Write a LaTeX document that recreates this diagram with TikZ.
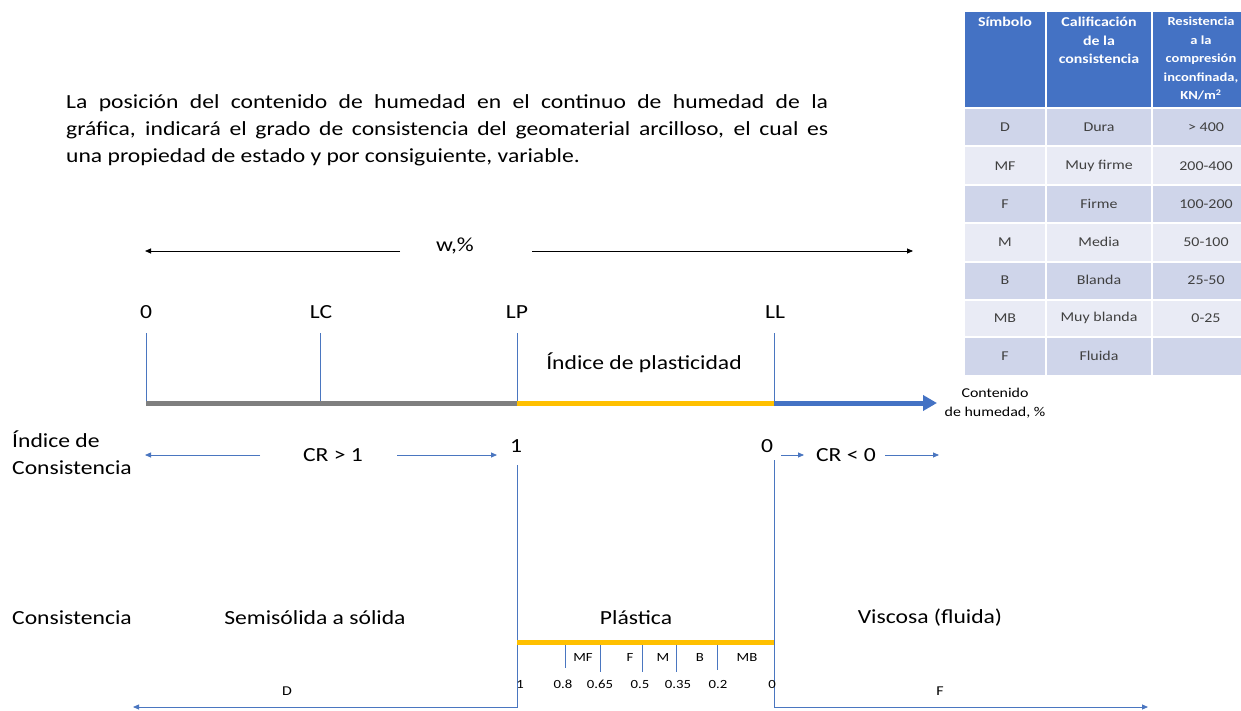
\documentclass[tikz,border=0pt]{standalone}
\usepackage{fontspec}
\setmainfont{Carlito}[FakeStretch=1.18]
\usetikzlibrary{arrows.meta}
\definecolor{thinblue}{HTML}{4A76C0}
\definecolor{axgray}{HTML}{7F7F7F}
\definecolor{axyellow}{HTML}{FFC000}
\definecolor{axblue}{HTML}{4472C4}
\definecolor{hdrblue}{HTML}{4472C4}
\definecolor{rowdark}{HTML}{CFD5EA}
\definecolor{rowlight}{HTML}{E9EBF5}
\definecolor{celltext}{HTML}{404040}
\begin{document}
\begin{tikzpicture}[x=1pt,y=-1pt,
  big/.style={inner sep=0pt, font=\fontsize{20}{27}\selectfont},
  med/.style={inner sep=0pt, font=\fontsize{13.5}{19}\selectfont},
  small/.style={inner sep=0pt, font=\fontsize{12.5}{15}\selectfont},
  tick/.style={draw=thinblue, line width=0.8pt},
  bluearrow/.style={draw=thinblue, line width=0.8pt, -{Triangle[length=6pt,width=5pt]}},
  blackarrow/.style={draw=black, line width=0.8pt, -{Triangle[length=6pt,width=5pt]}},
  axisline/.style={line width=5pt},
  hdr/.style={inner sep=0pt, anchor=north, align=center, text=white, font=\fontsize{13.5}{18.5}\selectfont\bfseries},
  cell/.style={inner sep=0pt, text=celltext, font=\fontsize{13.5}{16}\selectfont},
  grid/.style={draw=white, line width=1.5pt},
]
\useasboundingbox (0,0) rectangle (1241,711);
\fill[white] (0,0) rectangle (1241,711);

% paragraph
\node[big, anchor=north west, text width=762pt, align=justify] (para) at (66,94)
 {La posición del contenido de humedad en el continuo de humedad de la\linebreak
  gráfica, indicará el grado de consistencia del geomaterial arcilloso, el cual es\linebreak
  una propiedad de estado y por consiguiente, variable.};

% table
\begin{scope}
\clip (0,0) rectangle (1241,711);
\fill[hdrblue] (965,12) rectangle (1262,108);
\fill[rowdark]  (965,108) rectangle (1262,146);
\fill[rowlight] (965,146) rectangle (1262,185);
\fill[rowdark]  (965,185) rectangle (1262,223);
\fill[rowlight] (965,223) rectangle (1262,262);
\fill[rowdark]  (965,262) rectangle (1262,300);
\fill[rowlight] (965,300) rectangle (1262,337);
\fill[rowdark]  (965,337) rectangle (1262,375);
\foreach \yy in {108,146,185,223,262,300,337} \draw[grid] (965,\yy) -- (1262,\yy);
\draw[grid] (1046,12) -- (1046,375);
\draw[grid] (1152,12) -- (1152,375);
\node[hdr] (h1) at (1005,17) {Símbolo};
\node[hdr] (h2) at (1099,17) {Calificación\\de la\\consistencia};
\node[hdr, font=\fontsize{12.3}{18.5}\selectfont\bfseries] (h3) at (1201,17) {Resistencia\\a la\\compresión\\inconfinada,\\KN/m\textsuperscript{2}};
\node[cell] (r1a) at (1005,127) {D};
\node[cell] (r1b) at (1099,127) {Dura};
\node[cell] (r1c) at (1206,127) {> 400};
\node[cell] (r2a) at (1005,166) {MF};
\node[cell] (r2b) at (1099,166) {Muy firme};
\node[cell] (r2c) at (1206,166) {200-400};
\node[cell] (r3a) at (1005,204) {F};
\node[cell] (r3b) at (1099,204) {Firme};
\node[cell] (r3c) at (1206,204) {100-200};
\node[cell] (r4a) at (1005,242) {M};
\node[cell] (r4b) at (1099,242) {Media};
\node[cell] (r4c) at (1206,242) {50-100};
\node[cell] (r5a) at (1005,280) {B};
\node[cell] (r5b) at (1099,280) {Blanda};
\node[cell] (r5c) at (1206,280) {25-50};
\node[cell] (r6a) at (1005,318) {MB};
\node[cell] (r6b) at (1099,318) {Muy blanda};
\node[cell] (r6c) at (1206,318) {0-25};
\node[cell] (r7a) at (1005,356) {F};
\node[cell] (r7b) at (1099,356) {Fluida};
\end{scope}

% w,% arrows
\node[big] (w) at (455,246) {w,\%};
\coordinate (wLs) at (400,251);
\coordinate (wLe) at (145,251);
\coordinate (wRs) at (532,251);
\coordinate (wRe) at (913,251);
\draw[blackarrow] (wLs) -- (wLe);
\draw[blackarrow] (wRs) -- (wRe);

% limit labels
\node[big] (l0)  at (146,312) {0};
\node[big] (lLC) at (321,312) {LC};
\node[big] (lLP) at (517,312) {LP};
\node[big] (lLL) at (775,312) {LL};
\coordinate (a0)  at (146,403);
\coordinate (aLC) at (320,403);
\coordinate (aLP) at (517,403);
\coordinate (aLL) at (774,403);
\coordinate (aEnd) at (937,403);
\draw[tick] (146,333) -- (a0);
\draw[tick] (320,333) -- (aLC);
\draw[tick] (517,333) -- (aLP);
\draw[tick] (774,333) -- (aLL);
\draw[axisline, axgray] (a0) -- (aLP);
\draw[axisline, axyellow] (aLP) -- (aLL);
\draw[axisline, axblue, -{Triangle[length=14pt,width=15pt]}] ([xshift=-0.5pt]aLL) -- (aEnd);
\node[big] (ip) at (644,363) {Índice de plasticidad};
\node[med, align=center] (cont) at (995,403) {Contenido\\de humedad, \%};

% consistency index row
\node[big, anchor=west, align=left] (ic) at (12,453) {Índice de\\Consistencia};
\node[big] (cr1) at (333,455) {CR > 1};
\coordinate (c1Ls) at (260,455);
\coordinate (c1Le) at (145,455);
\coordinate (c1Rs) at (397,455);
\coordinate (c1Re) at (497,455);
\draw[bluearrow] (c1Ls) -- (c1Le);
\draw[bluearrow] (c1Rs) -- (c1Re);
\node[big] (one) at (516,446) {1};
\node[big] (zero) at (767,446) {0};
\node[big] (cr0) at (846,455) {CR < 0};
\coordinate (c0as) at (781,455);
\coordinate (c0ae) at (804,455);
\coordinate (c0bs) at (885,455);
\coordinate (c0be) at (939,455);
\draw[bluearrow] (c0as) -- (c0ae);
\draw[bluearrow] (c0bs) -- (c0be);

% verticals down to bottom arrows
\coordinate (vLt) at (517,465);
\coordinate (vLb) at (517,707);
\coordinate (dEnd) at (133,707);
\coordinate (vRt) at (774,460);
\coordinate (vRb) at (774,707);
\coordinate (fEnd) at (1148,707);
\draw[bluearrow] (vLt) -- (vLb) -- (dEnd);
\draw[bluearrow] (vRt) -- (vRb) -- (fEnd);

% consistency names
\node[big, anchor=west] (cons) at (12,618) {Consistencia};
\node[big] (semi) at (315,618) {Semisólida a sólida};
\node[big] (plas) at (636,618) {Plástica};
\node[big] (visc) at (930,618) {Viscosa (fluida)};

% plastic sub-scale
\coordinate (pL) at (517,642);
\coordinate (pR) at (774,642);
\draw[tick] (565,642) -- (565,668);
\draw[tick] (600,642) -- (600,672);
\draw[tick] (642,642) -- (642,672);
\draw[tick] (676,642) -- (676,672);
\draw[tick] (717,642) -- (717,670);
\draw[axisline, axyellow] (pL) -- (pR);
\node[small] (sMF) at (583,657) {MF};
\node[small] (sF)  at (630,657) {F};
\node[small] (sM)  at (663,657) {M};
\node[small] (sB)  at (700,657) {B};
\node[small] (sMB) at (747,657) {MB};
\node[small] (n1)   at (520,684) {1};
\node[small] (n08)  at (563,684) {0.8};
\node[small] (n065) at (600,684) {0.65};
\node[small] (n05)  at (640,684) {0.5};
\node[small] (n035) at (678,684) {0.35};
\node[small] (n02)  at (718,684) {0.2};
\node[small] (n0)   at (772,684) {0};
\node[med] (dD) at (287,691) {D};
\node[med] (dF) at (940,691) {F};
\end{tikzpicture}
\end{document}
